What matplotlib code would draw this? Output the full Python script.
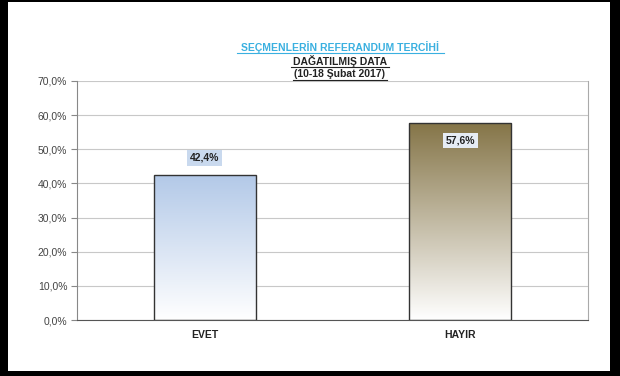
import numpy as np
import matplotlib
matplotlib.use('Agg')
from matplotlib import pyplot as plt
from matplotlib.patches import Rectangle

plt.rcParams['font.family'] = ['Liberation Sans', 'DejaVu Sans']

categories = ['EVET', 'HAYIR']
values = [42.4, 57.6]
labels = ['42,4%', '57,6%']
top_colors = ['#b3c9e8', '#857548']
yticks = [0, 10, 20, 30, 40, 50, 60, 70]

fig = plt.figure(figsize=(6.2, 3.76), dpi=100)
fig.patch.set_facecolor('white')
ax = fig.add_axes([77/620, 56/376, 511/620, 239/376])

x = np.arange(len(categories))
bars = ax.bar(x, values, width=0.4, facecolor='none', edgecolor='#333333', linewidth=1.0, zorder=3)

# gradient fill, top colour fading to white at the bottom
for b, c in zip(bars, top_colors):
    rgb = np.array(matplotlib.colors.to_rgb(c))
    t = np.linspace(1, 0, 256)[:, None]
    grad = np.ones((256, 1, 3)) * (1 - t)[..., None] + rgb * t[..., None]
    im = ax.imshow(grad, extent=[b.get_x(), b.get_x() + b.get_width(), 0, b.get_height()],
                   aspect='auto', zorder=2)
    im.set_clip_path(b)
    clip = Rectangle((b.get_x(), 0), b.get_width(), b.get_height(), transform=ax.transData)
    im.set_clip_path(clip)

ax.set_xlim(-0.5, 1.5)
ax.set_ylim(0, 70)
ax.set_yticks(yticks)
ax.set_yticklabels(['%.1f%%' % v for v in yticks], fontsize=7.5, color='#444444')
ax.yaxis.set_major_formatter(matplotlib.ticker.FuncFormatter(lambda v, p: ('%.1f%%' % v).replace('.', ',')))
ax.set_xticks(x)
ax.set_xticklabels(categories, fontsize=7.5, fontweight='bold', color='#222222')
ax.tick_params(axis='x', length=0, pad=7)
ax.tick_params(axis='y', length=4, color='#888888', pad=3)
ax.grid(axis='y', color='#c8c8c8', linewidth=0.8, zorder=0)
for s in ['top', 'right']:
    ax.spines[s].set_visible(False)
ax.spines['left'].set_color('#888888')
ax.spines['bottom'].set_color('#555555')
ax.plot([1.5, 1.5], [0, 70], color='#aaaaaa', linewidth=0.8, clip_on=False, zorder=1)

# value labels
ax.text(0, 47.5, labels[0], ha='center', va='center', fontsize=7.5, fontweight='bold', color='#222222',
        bbox=dict(facecolor='#c9d9ee', edgecolor='none', pad=2), zorder=4)
ax.text(1, 52.6, labels[1], ha='center', va='center', fontsize=7.5, fontweight='bold', color='#222222',
        bbox=dict(facecolor='#e6ecf4', edgecolor='none', pad=2), zorder=4)

# titles
fig.text(340/620, 1 - 47/376, 'SEÇMENLERİN REFERANDUM TERCİHİ', ha='center', va='center',
         fontsize=7.5, fontweight='bold', color='#3ab0e0')
fig.text(340/620, 1 - 61/376, 'DAĞATILMIŞ DATA', ha='center', va='center',
         fontsize=7.5, fontweight='bold', color='#222222')
fig.text(340/620, 1 - 74/376, '(10-18 Şubat 2017)', ha='center', va='center',
         fontsize=7.5, fontweight='bold', color='#222222')
for yy, x0, x1, c in [(53, 237, 444, '#3ab0e0'), (67, 291, 389, '#222222'), (80, 293, 387, '#222222')]:
    fig.add_artist(plt.Line2D([x0/620, x1/620], [1 - yy/376, 1 - yy/376], color=c, linewidth=0.8))

# black frame around the screenshot
for (l, b_, w, h) in [(0, 0, 8, 376), (610, 0, 10, 376), (0, 0, 620, 5), (0, 374, 620, 2)]:
    fig.add_artist(Rectangle((l/620, b_/376), w/620, h/376, transform=fig.transFigure,
                             facecolor='black', edgecolor='none'))

fig.savefig('out.png', dpi=100)
